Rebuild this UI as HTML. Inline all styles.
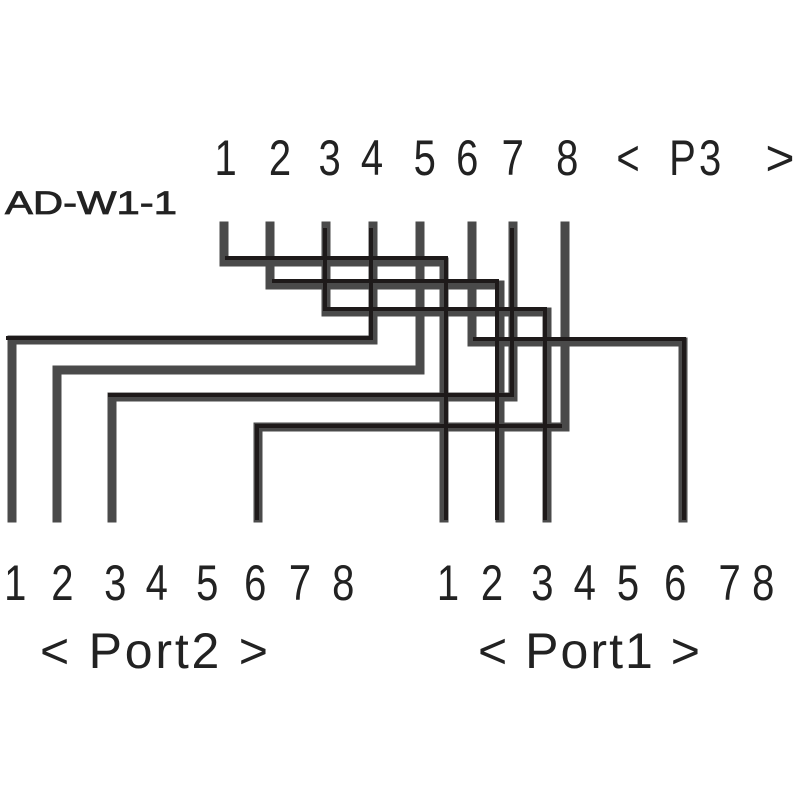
<!DOCTYPE html>
<html><head><style>body{margin:0;background:#fff}svg{display:block}</style></head><body>
<svg width="800" height="800" viewBox="0 0 800 800" xmlns="http://www.w3.org/2000/svg">
<g fill="none" stroke-linejoin="miter" stroke-linecap="square">
<g stroke="#4a4a4a" stroke-width="9">
<polyline points="224,226 224,262 444,262 444,518"/>
<polyline points="270,226 270,285 500,285 500,518"/>
<polyline points="326,226 326,312 547,312 547,518"/>
<polyline points="373,226 373,340 12,340 12,518"/>
<polyline points="420,226 420,370 57,370 57,518"/>
<polyline points="472,226 472,342 683,342 683,518"/>
<polyline points="513,226 513,397 112,397 112,518"/>
<polyline points="565,226 565,427 258,427 258,518"/>
</g>
<g stroke="#1e1a1a" stroke-width="4">
<polyline points="227,258 446,258 446,518"/>
<polyline points="274,281 497,281 497,518"/>
<polyline points="325,230 325,309 545,309 545,518"/>
<polyline points="371,230 371,338 8,338"/>
<polyline points="512,230 512,395 110,395"/>
<polyline points="475,339 684,339 684,518"/>
<polyline points="560,426 257,426 257,518"/>
</g>
</g>
<g font-family="Liberation Sans, sans-serif" fill="#222" font-size="50" text-anchor="middle">
<g transform="scale(0.8,1)">
<text x="282" y="175">1</text><text x="350" y="175">2</text><text x="412" y="175">3</text><text x="465" y="175">4</text>
<text x="531" y="175">5</text><text x="584" y="175">6</text><text x="641" y="175">7</text><text x="709" y="175">8</text>
<text x="785" y="175">&lt;</text>
<text x="871" y="175" letter-spacing="4">P3</text>
<text x="19" y="600">1</text><text x="78" y="600">2</text><text x="144" y="600">3</text><text x="196" y="600">4</text>
<text x="259" y="600">5</text><text x="319" y="600">6</text><text x="375" y="600">7</text><text x="429" y="600">8</text>
<text x="560" y="600">1</text><text x="615" y="600">2</text><text x="678" y="600">3</text><text x="731" y="600">4</text>
<text x="785" y="600">5</text><text x="844" y="600">6</text><text x="912" y="600">7</text><text x="954" y="600">8</text>
</g>
<text x="780" y="175">&gt;</text>
<text x="40" y="668" text-anchor="start" textLength="228" lengthAdjust="spacing">&lt; Port2 &gt;</text>
<text x="478" y="668" text-anchor="start" textLength="222" lengthAdjust="spacing">&lt; Port1 &gt;</text>
<text x="5" y="214" font-size="32" text-anchor="start" textLength="172" lengthAdjust="spacingAndGlyphs" stroke="#222" stroke-width="0.8">AD-W1-1</text>
</g>
</svg>
</body></html>
